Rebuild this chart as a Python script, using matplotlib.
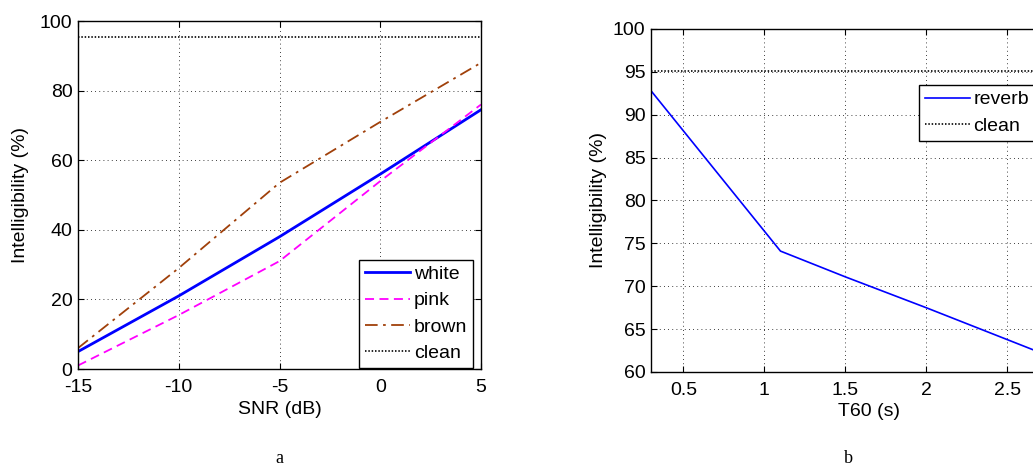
import matplotlib.pyplot as plt

plt.rcParams['font.family'] = ['Liberation Sans', 'DejaVu Sans']
plt.rcParams['axes.unicode_minus'] = False

# panel a: intelligibility vs SNR
snr = [-15, -10, -5, 0, 5]
white = [5, 21, 38, 56, 74.5]
pink = [1, 15.5, 31, 54, 76]
brown = [6, 29, 53.5, 71, 88]
clean_a = [95.5, 95.5, 95.5, 95.5, 95.5]

# panel b: intelligibility vs T60
t60 = [0.3, 1.1, 1.5, 2.0, 2.7]
reverb = [92.8, 74.1, 71.1, 67.5, 62.3]
t60_clean = [0.3, 3.0]
clean_b = [95.1, 95.1]
t60_ticks = [0.5, 1, 1.5, 2, 2.5]
t60_labels = ['0.5', '1', '1.5', '2', '2.5']

W, H = 1033, 471
FS = 14
fig = plt.figure(figsize=(W / 100, H / 100), dpi=100)

def px(l, t, r, b):
    return [l / W, 1 - b / H, (r - l) / W, (b - t) / H]

def style(ax):
    ax.grid(True, color='black', linestyle=(0, (1, 4)), linewidth=0.6)
    ax.tick_params(direction='in', top=True, right=True, labelsize=FS,
                   length=4, pad=4)
    ax.tick_params(axis='x', pad=7)
    for s in ax.spines.values():
        s.set_linewidth(1.0)

dots = (0, (0.9, 1.1))

def legend(ax, **kw):
    lg = ax.legend(bbox_transform=fig.transFigure, fontsize=FS, fancybox=False,
                   edgecolor='black', framealpha=1, handlelength=2.3,
                   handletextpad=0.2, labelspacing=0.45, borderpad=0.3,
                   borderaxespad=0, **kw)
    lg.get_frame().set_linewidth(1.0)
    return lg

# ---- a
ax1 = fig.add_axes(px(78, 21, 481, 369))
ax1.plot(snr, white, color='#0000ff', lw=2, label='white')
ax1.plot(snr, pink, color='#ff00ff', lw=1.3, ls=(0, (5, 3)), label='pink')
ax1.plot(snr, brown, color='#a0400a', lw=1.3, ls=(0, (7, 3, 1.5, 3)), label='brown')
ax1.plot(snr, clean_a, color='black', lw=1.2, ls=dots, label='clean')
ax1.set_xlim(-15, 5)
ax1.set_ylim(0, 100)
ax1.set_xticks(snr)
ax1.set_yticks([0, 20, 40, 60, 80, 100])
style(ax1)
ax1.set_xlabel('SNR (dB)', fontsize=FS, labelpad=4)
ax1.set_ylabel('Intelligibility (%)', fontsize=FS, labelpad=8)
legend(ax1, loc='lower right', bbox_to_anchor=(473 / W, 1 - 368 / H))

# ---- b (right part is cut off by the figure edge)
ax2 = fig.add_axes(px(651, 29, 1088, 372))
ax2.plot(t60, reverb, color='#0000ff', lw=1.2, label='reverb')
ax2.plot(t60_clean, clean_b, color='black', lw=1.2, ls=dots, label='clean')
ax2.set_xlim(0.3, 3.0)
ax2.set_ylim(60, 100)
ax2.set_xticks(t60_ticks)
ax2.set_xticklabels(t60_labels)
ax2.set_yticks(range(60, 101, 5))
style(ax2)
ax2.set_xlabel('T60 (s)', fontsize=FS, labelpad=3)
ax2.set_ylabel('Intelligibility (%)', fontsize=FS, labelpad=4)
legend(ax2, loc='upper left', bbox_to_anchor=(919 / W, 1 - 85 / H))

fig.text(279 / W, 1 - 463 / H, 'a', family='Liberation Serif', fontsize=13,
         ha='center', va='baseline')
fig.text(848 / W, 1 - 463 / H, 'b', family='Liberation Serif', fontsize=13,
         ha='center', va='baseline')

fig.savefig('out.png', dpi=100)
